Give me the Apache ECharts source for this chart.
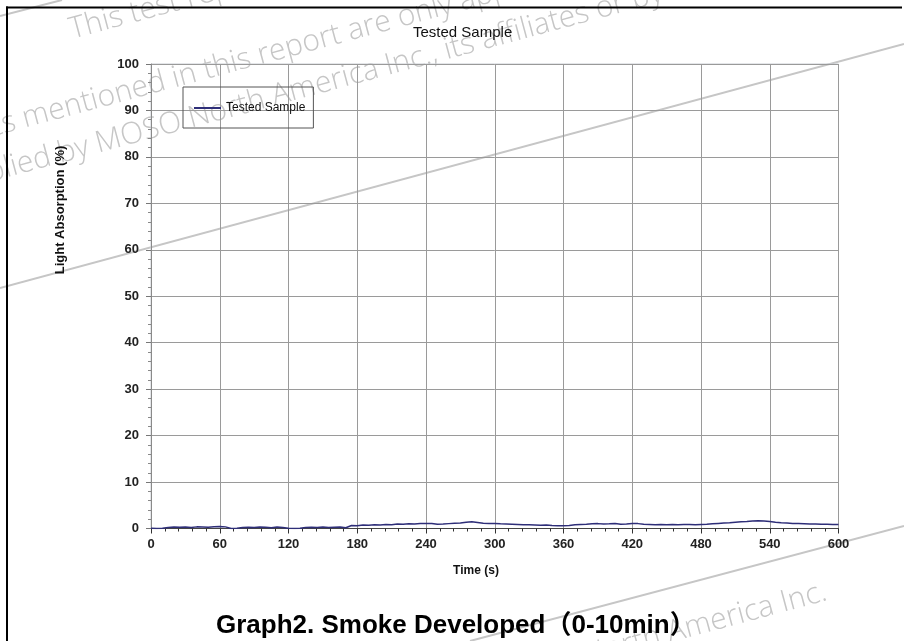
<!DOCTYPE html>
<html>
<head>
<meta charset="utf-8">
<script src="https://cdn.jsdelivr.net/npm/echarts@6/dist/echarts.min.js"></script>
<style>
html, body { margin: 0; padding: 0; background: #fff; }
#chart { width: 904px; height: 641px; }
</style>
</head>
<body>
<div id="chart"></div>
<script>
// time (s)
var times = [0,5,10,15,20,25,30,35,40,45,50,55,60,65,70,75,80,85,90,95,
	100,105,110,115,120,125,130,135,140,145,150,155,160,165,170,175,180,185,190,195,
	200,205,210,215,220,225,230,235,240,245,250,255,260,265,270,275,280,285,290,295,
	300,305,310,315,320,325,330,335,340,345,350,355,360,365,370,375,380,385,390,395,
	400,405,410,415,420,425,430,435,440,445,450,455,460,465,470,475,480,485,490,495,
	500,505,510,515,520,525,530,535,540,545,550,555,560,565,570,575,580,585,590,595,600];
// light absorption (%)
var absorption = [0.05,0.0,0.05,0.2,0.3,0.25,0.3,0.2,0.35,0.3,0.25,0.4,0.45,0.35,0.0,0.05,0.2,0.25,0.2,0.3,
	0.25,0.15,0.3,0.2,0.05,0.0,0.05,0.2,0.25,0.2,0.3,0.2,0.25,0.3,0.15,0.65,0.6,0.75,0.7,0.8,
	0.75,0.85,0.8,0.95,0.9,1.0,0.95,1.1,1.05,1.1,0.9,0.95,1.05,1.15,1.2,1.35,1.45,1.3,1.15,1.1,
	1.1,1.0,0.95,0.9,0.85,0.8,0.8,0.75,0.7,0.75,0.65,0.6,0.6,0.65,0.8,0.85,0.9,1.0,1.05,0.95,
	1.0,1.1,0.9,0.95,1.1,1.05,0.9,0.85,0.8,0.85,0.8,0.85,0.8,0.85,0.85,0.8,0.85,0.9,1.0,1.1,
	1.2,1.25,1.35,1.45,1.5,1.6,1.65,1.6,1.5,1.35,1.25,1.2,1.1,1.05,1.0,0.95,0.95,0.9,0.9,0.85,0.85];

var seriesName = 'Tested Sample';
var chartTitle = 'Tested Sample';
var xName = 'Time (s)';
var yName = 'Light Absorption (%)';
var caption = 'Graph2. Smoke Developed（0-10min）';
var watermarkRows = [
	'This test report and results',
	'ts mentioned in this report are only applicable to the',
	'supplied by MOSO North America Inc., its affiliates or by',
	'supplied by MOSO North America Inc.'
];

var font = 'Arial, "Liberation Sans", Helvetica, sans-serif';
var capFont = 'Arial, "Liberation Sans", "Noto Sans CJK SC", sans-serif';
var wmFont = '300 30px "Open Sans", "Noto Sans", sans-serif';
var wmColor = '#c6c6c6';
var tilt = 0.262;

var points = [];
for (var i = 0; i < times.length; i++) {
	points.push([times[i], absorption[i]]);
}

var chart = echarts.init(document.getElementById('chart'));

var option = {
	animation: false,
	backgroundColor: '#fff',
	title: {
		text: chartTitle,
		left: 408,
		top: 20,
		textStyle: { fontFamily: font, fontSize: 15, fontWeight: 'normal', color: '#111' }
	},
	legend: {
		left: 183,
		top: 87,
		padding: [15, 8, 14, 11],
		borderColor: '#555',
		borderWidth: 1,
		icon: 'rect',
		itemWidth: 27,
		itemHeight: 2,
		textStyle: { fontFamily: font, fontSize: 12, color: '#111' },
		data: [seriesName]
	},
	grid: {
		left: 151,
		right: 65.5,
		top: 64,
		bottom: 112.5,
		show: true,
		borderColor: '#c9ccd3',
		borderWidth: 1
	},
	xAxis: {
		type: 'value',
		min: 0,
		max: 600,
		interval: 60,
		axisLine: { lineStyle: { color: '#444', width: 1 } },
		axisTick: { inside: false, length: 5, lineStyle: { color: '#333' } },
		minorTick: { show: true, splitNumber: 5, length: 3, lineStyle: { color: '#333' } },
		splitLine: { show: true, lineStyle: { color: '#9a9a9a' } },
		axisLabel: { fontFamily: font, fontSize: 13, fontWeight: 'bold', color: '#222', margin: 9 }
	},
	yAxis: {
		type: 'value',
		min: 0,
		max: 100,
		interval: 10,
		axisLine: { show: true, lineStyle: { color: '#8a8a8a', width: 1 } },
		axisTick: { show: true, inside: false, length: 5, lineStyle: { color: '#777' } },
		minorTick: { show: true, splitNumber: 5, length: 3, lineStyle: { color: '#888' } },
		splitLine: { show: true, lineStyle: { color: '#9a9a9a' } },
		axisLabel: { fontFamily: font, fontSize: 13, fontWeight: 'bold', color: '#222', margin: 12 }
	},
	series: [{
		name: seriesName,
		type: 'line',
		data: points,
		showSymbol: false,
		lineStyle: { color: '#2e2e78', width: 1.5 },
		itemStyle: { color: '#2e2e78' }
	}],
	graphic: [
		// watermark
		{ type: 'line', z: -1, shape: { x1: 0, y1: 288, x2: 904, y2: 44 }, style: { stroke: wmColor, lineWidth: 2 } },
		{ type: 'line', z: -1, shape: { x1: 470, y1: 641, x2: 904, y2: 526 }, style: { stroke: wmColor, lineWidth: 2 } },
		{ type: 'line', z: -1, shape: { x1: 0, y1: 16, x2: 62, y2: 0 }, style: { stroke: wmColor, lineWidth: 2 } },
		{ type: 'text', z: -1, x: 74, y: 45, rotation: tilt, style: { text: watermarkRows[0], font: wmFont, fill: wmColor, textVerticalAlign: 'bottom' } },
		{ type: 'text', z: -1, x: -4, y: 142, rotation: tilt, style: { text: watermarkRows[1], font: wmFont, fill: wmColor, textVerticalAlign: 'bottom' } },
		{ type: 'text', z: -1, x: -57, y: 201, rotation: tilt, style: { text: watermarkRows[2], font: wmFont, fill: wmColor, textVerticalAlign: 'bottom' } },
		{ type: 'text', z: -1, x: 830, y: 606, rotation: tilt, style: { text: watermarkRows[3], font: wmFont, fill: wmColor, textAlign: 'right', textVerticalAlign: 'bottom' } },
		// frame
		{ type: 'line', z: 100, shape: { x1: 6, y1: 7.5, x2: 902, y2: 7.5 }, style: { stroke: '#000', lineWidth: 2 } },
		{ type: 'line', z: 100, shape: { x1: 7, y1: 6.5, x2: 7, y2: 641 }, style: { stroke: '#000', lineWidth: 2 } },
		// axis titles
		{ type: 'text', z: 50, x: 60, y: 210, rotation: Math.PI / 2, style: { text: yName, font: 'bold 13px ' + font, fill: '#111', textAlign: 'center', textVerticalAlign: 'middle' } },
		{ type: 'text', z: 50, x: 476, y: 571, style: { text: xName, font: 'bold 12px ' + font, fill: '#111', textAlign: 'center', textVerticalAlign: 'middle' } },
		// caption
		{ type: 'text', z: 50, x: 216, y: 626, style: { text: caption, font: 'bold 26px ' + capFont, fill: '#000', textVerticalAlign: 'middle' } }
	]
};

chart.setOption(option);
</script>
</body>
</html>
